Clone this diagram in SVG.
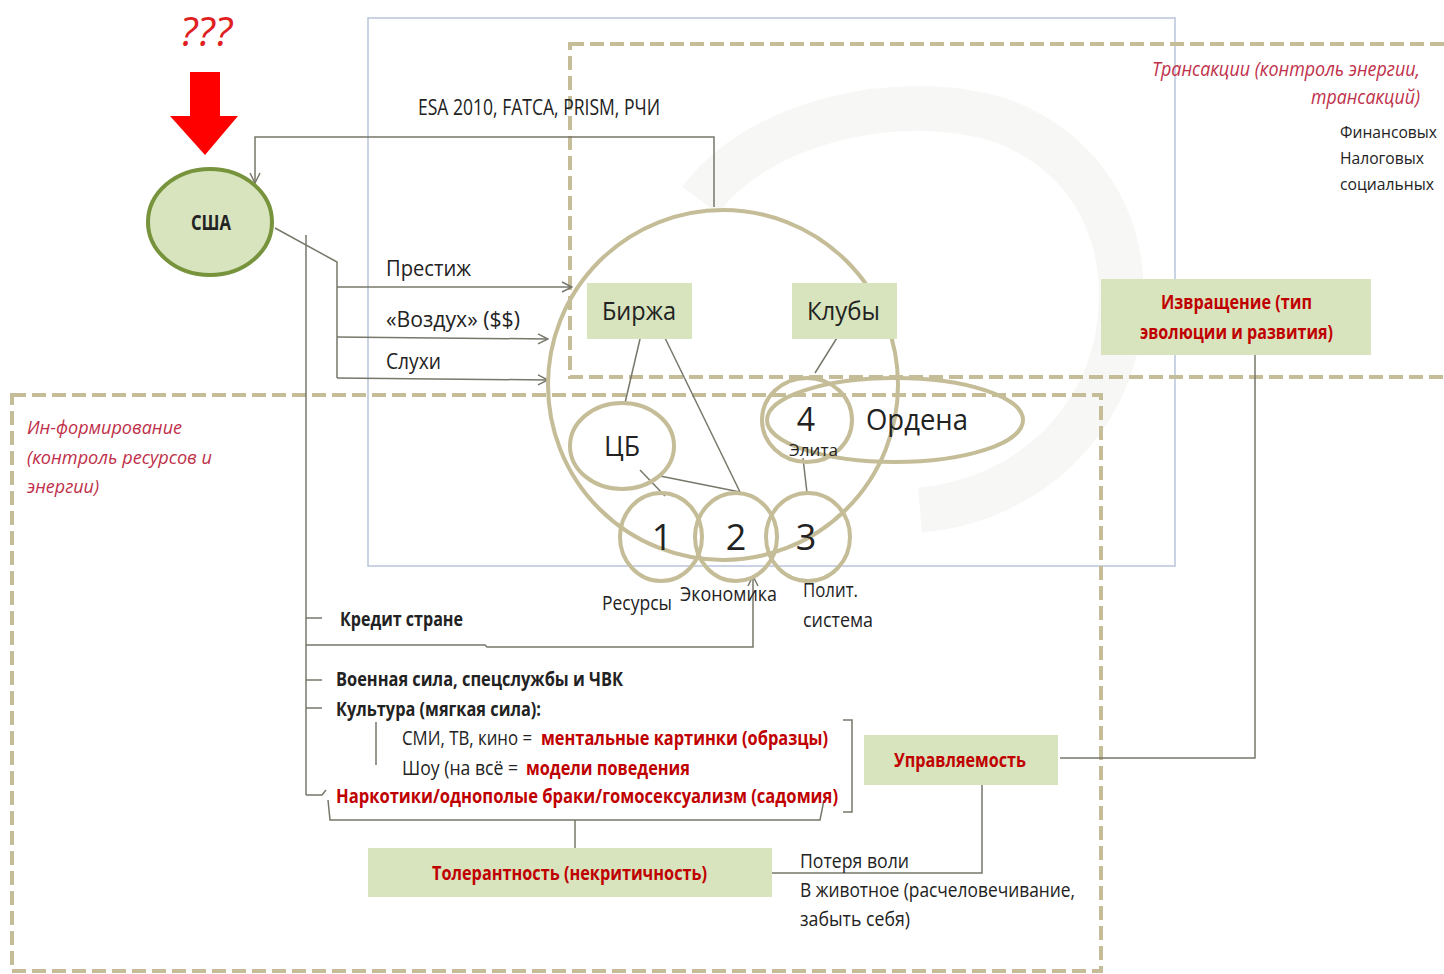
<svg xmlns="http://www.w3.org/2000/svg" width="1444" height="974" viewBox="0 0 1444 974">
<defs>
<style>
.t{font-family:"Open Sans","Liberation Sans",sans-serif;fill:#222}
.b{font-weight:bold}
.r{fill:#c00000}
.ri{fill:#c0304a;font-style:italic}
.ln{fill:none;stroke:#77776a;stroke-width:1.5}
.dash{fill:none;stroke:#c4bd97;stroke-width:4;stroke-dasharray:14 6}
.ring{fill:none;stroke:#c4bd97;stroke-width:4}
.box{fill:#d7e4bd}
</style>
<marker id="ah" viewBox="0 0 12 12" refX="11" refY="6" markerWidth="12" markerHeight="12" markerUnits="userSpaceOnUse" orient="auto">
<path d="M1,1 L11,6 L1,11" fill="none" stroke="#77776a" stroke-width="1.5"/>
</marker>
</defs>
<rect width="1444" height="974" fill="#ffffff"/>
<!-- faint watermark -->
<path d="M700,200 C760,120 900,90 1000,120 C1080,150 1130,220 1120,320 C1110,420 1030,500 920,510" fill="none" stroke="#f7f7f5" stroke-width="45"/>
<!-- frames -->
<rect x="368" y="18" width="807" height="548" fill="none" stroke="#b9c5dc" stroke-width="1.5"/>
<rect class="dash" x="570" y="44" width="900" height="333"/>
<rect class="dash" x="12" y="395" width="1089" height="576"/>

<g id="question">
<text class="t" x="180" y="46" font-size="40" font-style="italic" style="fill:#e02020" textLength="52" lengthAdjust="spacingAndGlyphs">???</text>
<path d="M190,72 H220 V116 H238 L205,155 L170,116 H190 Z" fill="#ff0000"/>
</g>

<g id="connectors">
<polyline class="ln" points="714,207 714,137 255,137 255,183" marker-end="url(#ah)"/>
<polyline class="ln" points="275,228 337,262 337,378"/>
<line class="ln" x1="337" y1="287" x2="572" y2="287" marker-end="url(#ah)"/>
<line class="ln" x1="337" y1="337" x2="548" y2="339" marker-end="url(#ah)"/>
<line class="ln" x1="337" y1="378" x2="548" y2="380" marker-end="url(#ah)"/>
<polyline class="ln" points="306,235 306,795"/>
<line class="ln" x1="306" y1="618" x2="322" y2="618"/>
<polyline class="ln" points="306,645 485,645 487,647 753,647 753,576" marker-end="url(#ah)"/>
<line class="ln" x1="306" y1="680" x2="322" y2="680"/>
<line class="ln" x1="306" y1="708" x2="322" y2="708"/>
<polyline class="ln" points="306,795 322,795 326,790"/>
<line class="ln" x1="376" y1="722" x2="376" y2="765"/>
<polyline class="ln" points="843,720 852,720 852,812 843,812"/>
<polyline class="ln" points="328,800 330,820 820,820 824,800"/>
<line class="ln" x1="575" y1="820" x2="575" y2="848"/>
<polyline class="ln" points="1255,355 1255,758 1060,758"/>
<polyline class="ln" points="982,785 982,873 772,873"/>
<line class="ln" x1="640" y1="339" x2="625" y2="403"/>
<line class="ln" x1="665" y1="338" x2="740" y2="492"/>
<line class="ln" x1="640" y1="470" x2="665" y2="496"/>
<line class="ln" x1="660" y1="476" x2="740" y2="492"/>
<line class="ln" x1="840" y1="333" x2="815" y2="373"/>
<line class="ln" x1="803" y1="458" x2="807" y2="493"/>
</g>

<g id="usa">
<ellipse cx="210" cy="222" rx="62" ry="53" fill="#d7e4bd" stroke="#77933c" stroke-width="4"/>
<text class="t b" x="191" y="230" font-size="21" textLength="40" lengthAdjust="spacingAndGlyphs">США</text>
</g>

<g id="labels-top">
<text class="t" x="418" y="115" font-size="21" textLength="242" lengthAdjust="spacingAndGlyphs">ESA 2010, FATCA, PRISM, РЧИ</text>
<text class="t" x="386" y="276" font-size="22" textLength="85" lengthAdjust="spacingAndGlyphs">Престиж</text>
<text class="t" x="386" y="327" font-size="22" textLength="134" lengthAdjust="spacingAndGlyphs">«Воздух» ($$)</text>
<text class="t" x="386" y="369" font-size="22" textLength="55" lengthAdjust="spacingAndGlyphs">Слухи</text>
</g>

<g id="big-circle"><circle class="ring" cx="723" cy="385" r="175"/></g>

<g id="birzha">
<rect class="box" x="587" y="283" width="105" height="56"/>
<text class="t" x="602" y="320" font-size="25" textLength="74" lengthAdjust="spacingAndGlyphs">Биржа</text>
</g>
<g id="kluby">
<rect class="box" x="792" y="283" width="105" height="56"/>
<text class="t" x="807" y="320" font-size="25" textLength="73" lengthAdjust="spacingAndGlyphs">Клубы</text>
</g>
<g id="cb">
<ellipse class="ring" cx="622" cy="446" rx="52" ry="43"/>
<text class="t" x="604" y="456" font-size="28" textLength="36" lengthAdjust="spacingAndGlyphs">ЦБ</text>
</g>
<g id="ordena">
<ellipse class="ring" cx="895" cy="420" rx="128" ry="42"/>
<text class="t" x="866" y="430" font-size="30" textLength="102" lengthAdjust="spacingAndGlyphs">Ордена</text>
</g>
<g id="elita">
<ellipse class="ring" cx="807" cy="420" rx="45" ry="42"/>
<text class="t" x="806" y="431" font-size="32" text-anchor="middle">4</text>
<text class="t" x="789" y="456" font-size="17" textLength="49" lengthAdjust="spacingAndGlyphs">Элита</text>
</g>
<g id="n1">
<ellipse class="ring" cx="661" cy="537" rx="41" ry="44"/>
<text class="t" x="662" y="550" font-size="36" text-anchor="middle">1</text>
</g>
<g id="n2">
<ellipse class="ring" cx="736" cy="537" rx="41" ry="44"/>
<text class="t" x="736" y="550" font-size="36" text-anchor="middle">2</text>
</g>
<g id="n3">
<ellipse class="ring" cx="808" cy="537" rx="42" ry="44"/>
<text class="t" x="806" y="550" font-size="36" text-anchor="middle">3</text>
</g>
<g id="labels-circles">
<text class="t" x="602" y="610" font-size="20" textLength="70" lengthAdjust="spacingAndGlyphs">Ресурсы</text>
<text class="t" x="680" y="601" font-size="20" textLength="97" lengthAdjust="spacingAndGlyphs">Экономика</text>
<text class="t" x="803" y="597" font-size="20" textLength="55" lengthAdjust="spacingAndGlyphs">Полит.</text>
<text class="t" x="803" y="627" font-size="20" textLength="70" lengthAdjust="spacingAndGlyphs">система</text>
</g>

<g id="transactions">
<text class="t ri" x="1152" y="76" font-size="20" textLength="268" lengthAdjust="spacingAndGlyphs">Трансакции (контроль энергии,</text>
<text class="t ri" x="1311" y="104" font-size="20" textLength="109" lengthAdjust="spacingAndGlyphs">трансакций)</text>
<text class="t" x="1340" y="138" font-size="17" textLength="97" lengthAdjust="spacingAndGlyphs">Финансовых</text>
<text class="t" x="1340" y="164" font-size="17" textLength="84" lengthAdjust="spacingAndGlyphs">Налоговых</text>
<text class="t" x="1340" y="190" font-size="17" textLength="94" lengthAdjust="spacingAndGlyphs">социальных</text>
</g>

<g id="izvrashchenie">
<rect class="box" x="1101" y="279" width="270" height="76"/>
<text class="t b r" x="1161" y="309" font-size="19" textLength="151" lengthAdjust="spacingAndGlyphs">Извращение (тип</text>
<text class="t b r" x="1140" y="339" font-size="19" textLength="193" lengthAdjust="spacingAndGlyphs">эволюции и развития)</text>
</g>

<g id="informirovanie">
<text class="t ri" x="27" y="434" font-size="19" textLength="155" lengthAdjust="spacingAndGlyphs">Ин-формирование</text>
<text class="t ri" x="27" y="464" font-size="19" textLength="185" lengthAdjust="spacingAndGlyphs">(контроль ресурсов и</text>
<text class="t ri" x="27" y="493" font-size="19" textLength="72" lengthAdjust="spacingAndGlyphs">энергии)</text>
</g>

<g id="list">
<text class="t b" x="340" y="626" font-size="20" textLength="123" lengthAdjust="spacingAndGlyphs">Кредит стране</text>
<text class="t b" x="336" y="686" font-size="20" textLength="287" lengthAdjust="spacingAndGlyphs">Военная сила, спецслужбы и ЧВК</text>
<text class="t b" x="336" y="716" font-size="20" textLength="205" lengthAdjust="spacingAndGlyphs">Культура (мягкая сила):</text>
<text class="t" x="402" y="745" font-size="20" textLength="130" lengthAdjust="spacingAndGlyphs">СМИ, ТВ, кино =</text>
<text class="t b r" x="541" y="745" font-size="20" textLength="287" lengthAdjust="spacingAndGlyphs">ментальные картинки (образцы)</text>
<text class="t" x="402" y="775" font-size="20" textLength="116" lengthAdjust="spacingAndGlyphs">Шоу  (на всё =</text>
<text class="t b r" x="526" y="775" font-size="20" textLength="164" lengthAdjust="spacingAndGlyphs">модели поведения</text>
<text class="t b r" x="336" y="803" font-size="20" textLength="502" lengthAdjust="spacingAndGlyphs">Наркотики/однополые браки/гомосексуализм  (садомия)</text>
</g>

<g id="upravlyaemost">
<rect class="box" x="864" y="735" width="194" height="50"/>
<text class="t b r" x="894" y="767" font-size="20" textLength="132" lengthAdjust="spacingAndGlyphs">Управляемость</text>
</g>

<g id="tolerantnost">
<rect class="box" x="368" y="848" width="404" height="49"/>
<text class="t b r" x="432" y="880" font-size="20" textLength="275" lengthAdjust="spacingAndGlyphs">Толерантность (некритичность)</text>
</g>

<g id="loss">
<text class="t" x="800" y="868" font-size="20" textLength="109" lengthAdjust="spacingAndGlyphs">Потеря воли</text>
<text class="t" x="800" y="897" font-size="20" textLength="275" lengthAdjust="spacingAndGlyphs">В животное (расчеловечивание,</text>
<text class="t" x="800" y="926" font-size="20" textLength="110" lengthAdjust="spacingAndGlyphs">забыть себя)</text>
</g>
</svg>
